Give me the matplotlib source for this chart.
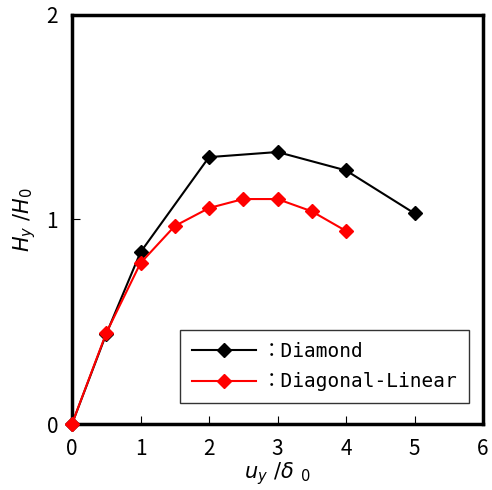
import matplotlib
matplotlib.use("Agg")
import matplotlib.pyplot as plt

# data
dia_x = [0, 0.5, 1, 2, 3, 4, 5]
dia_y = [0, 0.44, 0.84, 1.305, 1.33, 1.24, 1.03]
lin_x = [0, 0.5, 1, 1.5, 2, 2.5, 3, 3.5, 4]
lin_y = [0, 0.445, 0.787, 0.968, 1.056, 1.10, 1.10, 1.04, 0.944]
xticks = [0, 1, 2, 3, 4, 5, 6]
yticks = [0, 1, 2]

plt.rcParams["font.family"] = ["Noto Sans CJK JP", "DejaVu Sans"]
plt.rcParams["mathtext.fontset"] = "dejavusans"

fig = plt.figure(figsize=(4.92, 4.90), dpi=100)
ax = fig.add_axes([72 / 492, 66 / 490, 411 / 492, 409 / 490])

ax.plot(dia_x, dia_y, "D-", color="black", lw=1.5, ms=7.5, label="：Diamond", zorder=3, clip_on=False)
ax.plot(lin_x, lin_y, "D-", color="red", lw=1.5, ms=7.5, label="：Diagonal-Linear", zorder=4, clip_on=False)

ax.set_xlim(0, 6)
ax.set_ylim(0, 2)
ax.set_xticks(xticks)
ax.set_yticks(yticks)
ax.tick_params(direction="in", length=6, width=0.8, labelsize=15, pad=10)
for lab in ax.get_xticklabels() + ax.get_yticklabels():
    lab.set_family("Noto Sans CJK JP")
for s in ax.spines.values():
    s.set_linewidth(2.5)

ax.set_xlabel(r"$u_y\ /\delta\ _0$", fontsize=15, labelpad=0)
ax.set_ylabel(r"$H_y\ /H_0$", fontsize=15, labelpad=6)

leg = ax.legend(loc="lower right", bbox_to_anchor=(0.966, 0.051), borderaxespad=0,
                prop={"family": ["DejaVu Sans Mono", "Noto Sans CJK JP"], "size": 14},
                frameon=True, fancybox=False, edgecolor="black", handlelength=3.3,
                handletextpad=0.3, borderpad=0.6, labelspacing=0.6)
leg.get_frame().set_linewidth(1.0)

fig.savefig("out.png", dpi=100)
